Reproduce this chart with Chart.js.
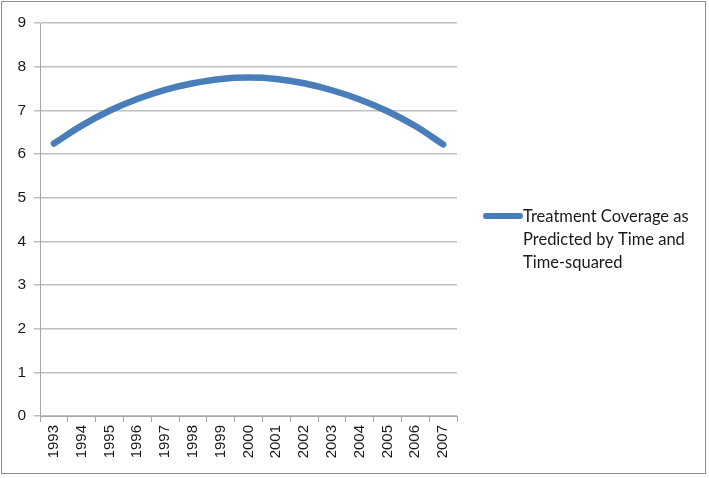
<!DOCTYPE html>
<html><head><meta charset="utf-8">
<script src="https://cdn.jsdelivr.net/npm/chart.js@4/dist/chart.umd.min.js"></script>
<style>
html,body{margin:0;padding:0;background:#fff;}
#wrap{position:absolute;left:1px;top:1px;width:705px;height:473px;border:1px solid #8c8c8c;box-sizing:border-box;}
canvas{display:block;}
</style></head>
<body>
<div id="wrap"><canvas id="c" width="705" height="473"></canvas></div>
<script>
const years = ['1993','1994','1995','1996','1997','1998','1999','2000','2001','2002','2003','2004','2005','2006','2007'];
const predicted = [6.24, 6.65, 6.99, 7.26, 7.47, 7.62, 7.72, 7.75, 7.72, 7.62, 7.46, 7.25, 6.98, 6.64, 6.22];
const seriesLabel = ['Treatment Coverage as', 'Predicted by Time and', 'Time-squared'];
const yTicks = [0,1,2,3,4,5,6,7,8,9];

const legendPlugin = {
  id: 'sideLegend',
  afterDraw(chart) {
    const ctx = chart.ctx;
    const ds = chart.data.datasets[0];
    ctx.save();
    ctx.strokeStyle = ds.borderColor;
    ctx.lineWidth = 6;
    ctx.lineCap = 'round';
    ctx.beginPath();
    ctx.moveTo(484, 214);
    ctx.lineTo(518, 214);
    ctx.stroke();
    ctx.fillStyle = '#1a1a1a';
    ctx.font = '16.5px Lato, "Open Sans", sans-serif';
    ctx.textBaseline = 'middle';
    seriesLabel.forEach((t, i) => ctx.fillText(t, 521, 215 + i * 23));
    ctx.restore();
  }
};

new Chart(document.getElementById('c'), {
  type: 'line',
  data: {
    labels: years,
    datasets: [{
      label: seriesLabel.join(' '),
      data: predicted,
      borderColor: '#4a7ebb',
      borderWidth: 6.5,
      borderCapStyle: 'round',
      pointRadius: 0,
      tension: 0.4,
      fill: false
    }]
  },
  options: {
    responsive: false,
    animation: false,
    devicePixelRatio: 1,
    layout: { padding: { left: 0, top: 21, right: 705 - 455, bottom: 0 } },
    plugins: { legend: { display: false }, tooltip: { enabled: false } },
    scales: {
      x: {
        offset: true,
        grid: { offset: true, drawOnChartArea: false, drawTicks: true, tickLength: 6, color: '#a6a6a6' },
        border: { color: '#a6a6a6' },
        ticks: { minRotation: 90, maxRotation: 90, autoSkip: false, color: '#1a1a1a', font: { family: '"Liberation Sans", Arial, sans-serif', size: 15 }, padding: 3 },
        afterFit(s) { s.height = 473 - 414; }
      },
      y: {
        min: 0, max: 9,
        afterBuildTicks(s) { s.ticks = yTicks.map(v => ({ value: v })); },
        grid: { color: '#bfbfbf', lineWidth: 1.5, tickLength: 6, drawTicks: true },
        border: { color: '#a6a6a6' },
        ticks: { color: '#1a1a1a', font: { family: '"Liberation Sans", Arial, sans-serif', size: 15.5 }, padding: 8 },
        afterFit(s) { s.width = 38; }
      }
    }
  },
  plugins: [legendPlugin]
});
</script>
</body></html>
